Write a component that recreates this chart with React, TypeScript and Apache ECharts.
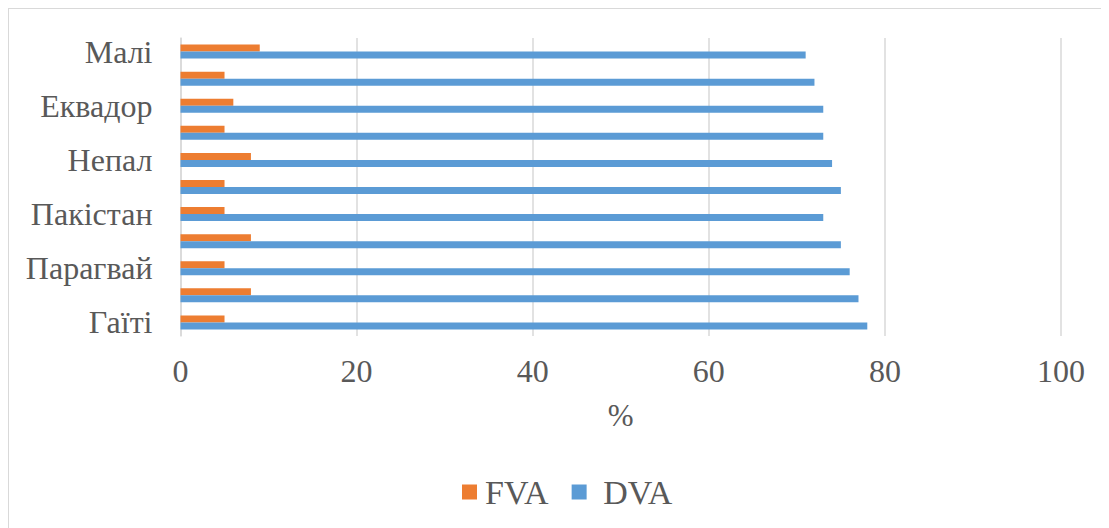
import React, { useEffect, useRef } from "react";
import * as echarts from "echarts";

// Every second category has no visible label in the reference; those names are left blank.
const categories = ["Гаїті", "", "Парагвай", "", "Пакістан", "", "Непал", "", "Еквадор", "", "Малі"];
const fvaValues = [5, 8, 5, 8, 5, 5, 8, 5, 6, 5, 9];
const dvaValues = [78, 77, 76, 75, 73, 75, 74, 73, 73, 72, 71];
const xTicks = { min: 0, max: 100, interval: 20 };
const seriesNames = ["FVA", "DVA"];

const FONT = "'Liberation Serif', 'Times New Roman', serif";
const TEXT = "#595959";
const GRID = "#d9d9d9";

export default function App() {
  const ref = useRef<HTMLDivElement>(null);
  useEffect(() => {
    if (!ref.current) return;
    const chart = echarts.init(ref.current, undefined, { renderer: "svg" });
    chart.setOption({
      animation: false,
      textStyle: { fontFamily: FONT },
      grid: { left: 171.5, right: 48, top: 29, bottom: 192, containLabel: false },
      legend: {
        data: seriesNames,
        left: 448,
        top: 461,
        itemWidth: 15,
        itemHeight: 15,
        itemGap: 23,
        icon: "rect",
        formatter: (name: string) => (name === "DVA" ? " " + name : name),
        textStyle: { fontFamily: FONT, fontSize: 34, color: TEXT, padding: [0, 0, 0, 3] },
      },
      xAxis: {
        type: "value",
        min: xTicks.min,
        max: xTicks.max,
        interval: xTicks.interval,
        name: "%",
        nameLocation: "middle",
        nameGap: 64,
        nameTextStyle: { fontFamily: FONT, fontSize: 31, color: TEXT },
        axisLine: { show: false },
        axisTick: { show: false },
        axisLabel: { fontFamily: FONT, fontSize: 32, color: TEXT, margin: 19 },
        splitLine: { show: true, lineStyle: { color: GRID, width: 1.5 } },
      },
      yAxis: {
        type: "category",
        data: categories,
        axisLine: { show: true, lineStyle: { color: GRID, width: 1.5 } },
        axisTick: { show: false },
        axisLabel: { fontFamily: FONT, fontSize: 32, color: TEXT, margin: 28, interval: 0 },
        splitLine: { show: false },
      },
      series: [
        {
          name: "FVA",
          type: "bar",
          data: fvaValues,
          barWidth: 7,
          barGap: "0%",
          itemStyle: { color: "#ED7D31" },
        },
        {
          name: "DVA",
          type: "bar",
          data: dvaValues,
          barWidth: 7,
          barGap: "0%",
          itemStyle: { color: "#5B9BD5" },
        },
      ],
    });
    return () => chart.dispose();
  }, []);
  return (
    <div style={{ width: 1101, height: 520, borderLeft: "1px solid #d9d9d9", borderTop: "1px solid #d9d9d9", overflow: "hidden" }}>
      <div ref={ref} style={{ width: 1100, height: 519 }} />
    </div>
  );
}
